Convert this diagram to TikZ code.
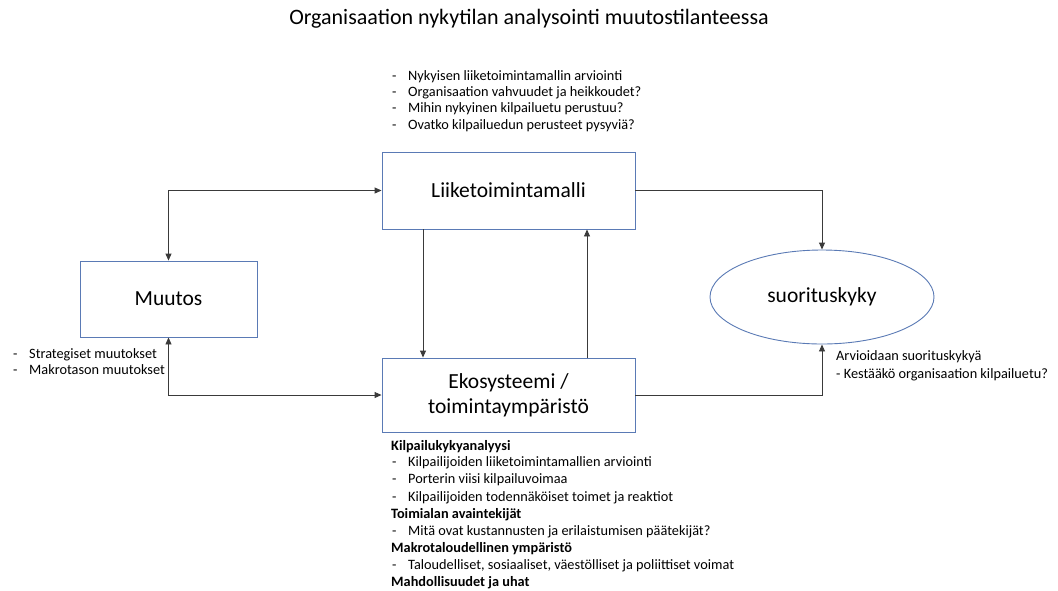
\documentclass[tikz,border=0pt]{standalone}
\usepackage{fontspec}
\setmainfont{Carlito}
\usetikzlibrary{arrows.meta,shapes.geometric}
\definecolor{boxblue}{HTML}{5A7AB5}
\definecolor{linegray}{HTML}{3A3A3A}
\tikzset{
  blockbox/.style={draw=boxblue,line width=0.9pt,fill=white,inner sep=0pt},
  conn/.style={draw=linegray,line width=0.9pt,-{Triangle[length=7pt,width=6pt]}},
  conn2/.style={draw=linegray,line width=0.9pt,{Triangle[length=7pt,width=6pt]}-{Triangle[length=7pt,width=6pt]}},
  txt/.style={anchor=base west,inner sep=0pt,font=\fontsize{14.3}{16}\selectfont},
  boldtxt/.style={txt,font=\fontsize{14.3}{16}\selectfont\bfseries},
  boxtxt/.style={font=\fontsize{21.5}{25}\selectfont,align=center}
}
\begin{document}
\begin{tikzpicture}[x=1pt,y=-1pt]
\useasboundingbox (0,0) rectangle (1058,590);
% title
\node[font=\fontsize{22}{24}\selectfont,anchor=base] (title) at (529,24) {Organisaation nykytilan analysointi muutostilanteessa};
% boxes
\node[blockbox,minimum width=253pt,minimum height=77pt] (lm) at (508.5,190.5) {};
\node[boxtxt] at (lm.center) {Liiketoimintamalli};
\node[blockbox,minimum width=177pt,minimum height=76pt] (mu) at (168.5,299) {};
\node[boxtxt] at (mu.center) {Muutos};
\node[blockbox,minimum width=253pt,minimum height=74pt] (eko) at (508.5,395) {};
\node[boxtxt] at (eko.center) {Ekosysteemi /\\toimintaympäristö};
\node[blockbox,ellipse,minimum width=224pt,minimum height=94pt] (su) at (822,297) {};
\node[boxtxt] at (su.center) {suorituskyky};
% connectors
\draw[conn2] (mu.north) |- (lm.west);
\draw[conn2] (mu.south) |- (eko.west);
\draw[conn] (lm.south -| 423,0) -- (eko.north -| 423,0);
\draw[conn] (eko.north -| 587,0) -- (lm.south -| 587,0);
\draw[conn] (lm.east) -| (su.north);
\draw[conn] (eko.east) -| (su.south);
% top list
\foreach \yy/\t in {80/Nykyisen liiketoimintamallin arviointi,96/Organisaation vahvuudet ja heikkoudet?,112/Mihin nykyinen kilpailuetu perustuu?,129/Ovatko kilpailuedun perusteet pysyviä?}{
  \node[txt] at (392,\yy) {-};
  \node[txt] at (408,\yy) {\t};
}
% left list
\node[txt] (l1d) at (13,358) {-};
\node[txt] (l1) at (29,358) {Strategiset muutokset};
\node[txt] (l2d) at (13,374) {-};
\node[txt] (l2) at (29,374) {Makrotason muutokset};
% right text
\node[txt] (r1) at (836,360) {Arvioidaan suorituskykyä};
\node[txt] (r2) at (836,378) {- Kestääkö organisaation kilpailuetu?};
% bottom list
\node[boldtxt] (b1) at (391,450) {Kilpailukykyanalyysi};
\foreach \yy/\t in {466/Kilpailijoiden liiketoimintamallien arviointi,483/Porterin viisi kilpailuvoimaa,501/Kilpailijoiden todennäköiset toimet ja reaktiot}{
  \node[txt] at (392,\yy) {-};
  \node[txt] at (408,\yy) {\t};
}
\node[boldtxt] (b2) at (391,518) {Toimialan avaintekijät};
\node[txt] at (392,535) {-};
\node[txt] at (408,535) {Mitä ovat kustannusten ja erilaistumisen päätekijät?};
\node[boldtxt] (b3) at (391,552) {Makrotaloudellinen ympäristö};
\node[txt] at (392,569) {-};
\node[txt] at (408,569) {Taloudelliset, sosiaaliset, väestölliset ja poliittiset voimat};
\node[boldtxt] (b4) at (391,586) {Mahdollisuudet ja uhat};
\end{tikzpicture}
\end{document}
